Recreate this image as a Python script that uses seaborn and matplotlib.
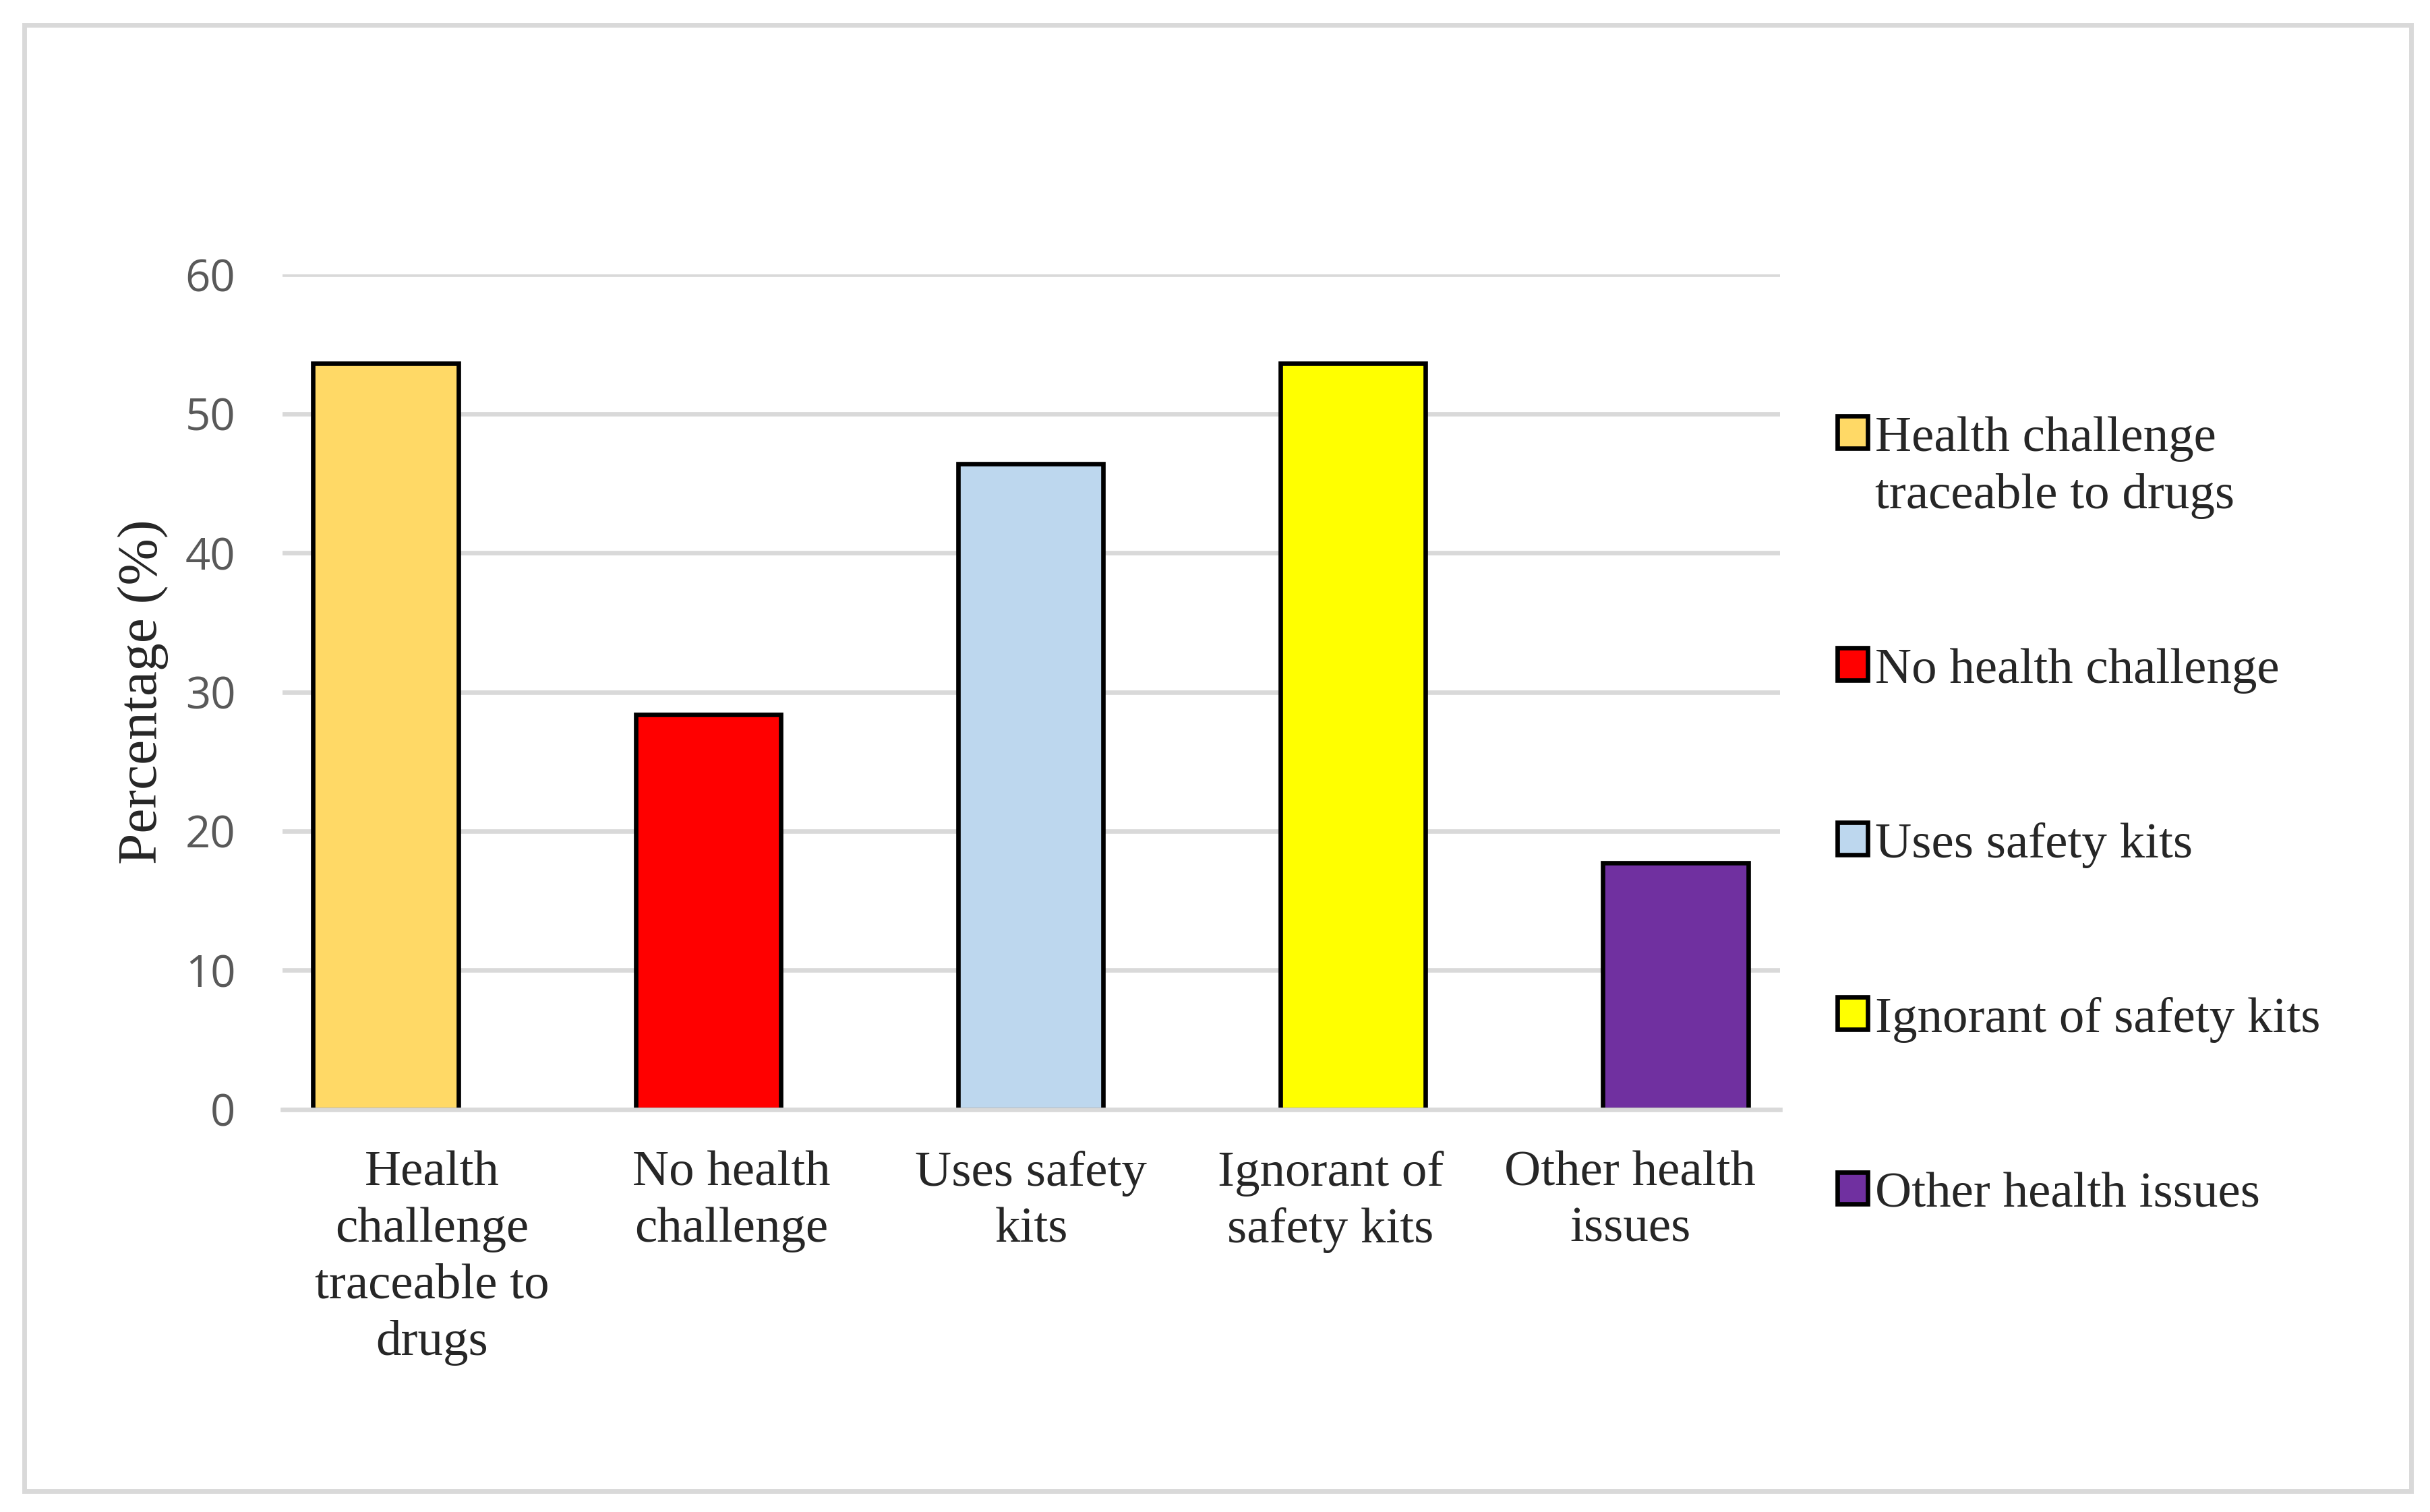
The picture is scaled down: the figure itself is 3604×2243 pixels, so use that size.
import matplotlib
matplotlib.use('Agg')
import matplotlib.pyplot as plt
import seaborn as sns

categories = ['Health challenge traceable to drugs', 'No health challenge',
              'Uses safety kits', 'Ignorant of safety kits', 'Other health issues']
percentages = [53.6, 28.4, 46.4, 53.6, 17.7]
tick_labels = ['Health\nchallenge\ntraceable to\ndrugs', 'No health\nchallenge',
               'Uses safety\nkits', 'Ignorant of\nsafety kits', 'Other health\nissues']
legend_labels = ['Health challenge\ntraceable to drugs', 'No health challenge',
                 'Uses safety kits', 'Ignorant of safety kits', 'Other health issues']
bar_colors = ['#FFD966', '#FF0000', '#BDD7EE', '#FFFF00', '#7030A0']
y_ticks = [0, 10, 20, 30, 40, 50, 60]

sns.set_style('white')
plt.rcParams['font.family'] = ['Liberation Serif', 'DejaVu Serif']

fig = plt.figure(figsize=(36.05, 22.43), dpi=100)
ax = fig.add_axes([0.1162, 0.2662, 0.6161, 0.5523])

sns.barplot(x=categories, y=percentages, hue=categories, palette=bar_colors,
            width=0.45, edgecolor='black', linewidth=4.8, saturation=1,
            legend=False, ax=ax)

# excel-like: bars spaced a bit wider than the category slots
x_left, x_right = -0.320, 4.324
ax.set_xlim(x_left, x_right)
slot = (x_right - x_left) / len(categories)
ax.set_xticks([x_left + (i + 0.5) * slot for i in range(len(categories))])
ax.set_xticklabels(tick_labels, fontsize=54, linespacing=1.31)

ax.set_ylim(0, 60)
ax.set_yticks(y_ticks)
ax.set_yticklabels([str(t) for t in y_ticks], fontsize=47, color='#595959',
                   family=['Open Sans', 'DejaVu Sans'])
ax.tick_params(axis='y', length=0, pad=50)
ax.tick_params(axis='x', length=0, pad=44)

ax.yaxis.grid(True, color='#D9D9D9', linewidth=4.8)
ax.set_axisbelow(True)
for side in ['top', 'right', 'left']:
    ax.spines[side].set_visible(False)
ax.spines['bottom'].set_color('#D9D9D9')
ax.spines['bottom'].set_linewidth(4.8)

ax.set_xlabel('')
ax.set_ylabel('Percentage (%)', fontsize=60)
ax.yaxis.set_label_coords(-0.076, 0.5)

handles = ax.patches[:len(categories)]
leg = fig.legend(handles, legend_labels, loc='upper left', bbox_to_anchor=(0.7559, 0.7247),
                 frameon=False, fontsize=54, handlelength=0.6, handleheight=0.6,
                 handletextpad=0.15, labelspacing=2.55, borderpad=0, borderaxespad=0)
for t in leg.get_texts():
    t.set_linespacing(1.33)
# keep the swatch next to the first line of a two-line label
for col in leg._legend_handle_box.get_children():
    for item in col.get_children():
        item.align = 'top'

# light grey frame around the whole chart
fig.patches.append(plt.Rectangle((0.0101, 0.014), 0.9819, 0.9697, transform=fig.transFigure,
                                 fill=False, edgecolor='#D9D9D9', linewidth=5))

fig.savefig('out.png', dpi=100)
